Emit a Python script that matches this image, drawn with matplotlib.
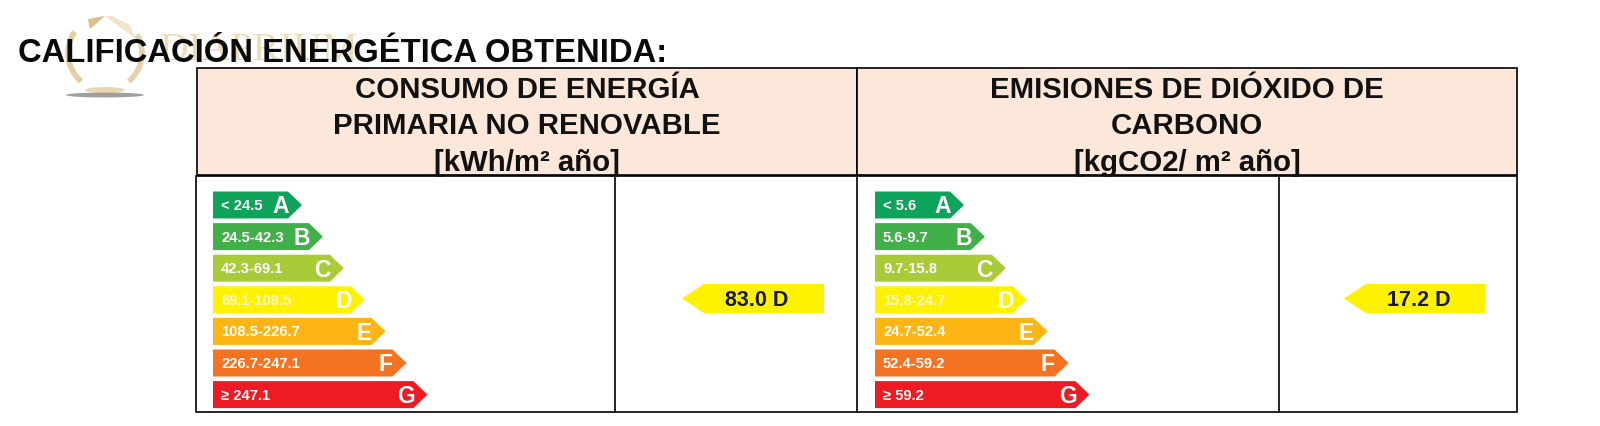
#!/usr/bin/env python
# -*- coding: utf-8 -*-

"""Calificacion energetica: two rating scales with the obtained class."""

import matplotlib
matplotlib.use('Agg')
import matplotlib.pyplot as plt
from matplotlib.patches import Arc, Ellipse, Polygon, Rectangle

plt.rcParams['font.family'] = ['Liberation Sans', 'DejaVu Sans']

TITLE = 'CALIFICACIÓN ENERGÉTICA OBTENIDA:'
HEAD_ENERGY = ['CONSUMO DE ENERGÍA', 'PRIMARIA NO RENOVABLE', '[kWh/m² año]']
HEAD_CO2 = ['EMISIONES DE DIÓXIDO DE', 'CARBONO', '[kgCO2/ m² año]']

LETTERS = ['A', 'B', 'C', 'D', 'E', 'F', 'G']
BAND_COLORS = ['#0ea35a', '#41b04a', '#a9cb38', '#fff200', '#fdb515', '#f47322', '#ed1c24']
RANGES_ENERGY = ['< 24.5', '24.5-42.3', '42.3-69.1', '69.1-108.5', '108.5-226.7', '226.7-247.1', '≥ 247.1']
RANGES_CO2 = ['< 5.6', '5.6-9.7', '9.7-15.8', '15.8-24.7', '24.7-52.4', '52.4-59.2', '≥ 59.2']

VALUE_ENERGY = '83.0 D'
VALUE_CO2 = '17.2 D'
VALUE_COLOR = '#fff200'
HEAD_COLOR = '#fce8da'
WATERMARK = 'DIAPRIUM'


def draw_scale(ax, x0, ranges):
    """Draw the seven coloured arrows starting at x0."""
    for i, (rng, letter, color) in enumerate(zip(ranges, LETTERS, BAND_COLORS)):
        top = 192.5 + i * 31.6
        bot = top + 27
        tip = x0 + 89 + i * 20.9
        ax.add_patch(Polygon([(x0, top), (tip - 14, top), (tip, (top + bot) / 2),
                              (tip - 14, bot), (x0, bot)], color=color, lw=0))
        txt_col = '#fff9c0' if letter == 'D' else 'white'
        ax.text(x0 + 8, (top + bot) / 2, rng, color=txt_col, fontsize=10.6, weight='bold',
                va='center', ha='left')
        ax.text(tip - 21, (top + bot) / 2 + 1, letter, color='white', fontsize=16.5, weight='bold',
                va='center', ha='center')


def draw_value(ax, x0, x1, label):
    """Draw the left pointing arrow with the obtained value."""
    top, bot = 285, 314
    ax.add_patch(Polygon([(x0, (top + bot) / 2), (x0 + 22, top), (x1, top), (x1, bot), (x0 + 22, bot)],
                         color=VALUE_COLOR, lw=0))
    ax.text((x0 + x1) / 2 + 4, (top + bot) / 2 + 1, label, color='#1a1a1a', fontsize=15.5,
            va='center', ha='center', weight='bold')


fig = plt.figure(figsize=(16, 4.27), dpi=100)
ax = fig.add_axes([0, 0, 1, 1])
ax.set_xlim(0, 1600)
ax.set_ylim(427, 0)
ax.axis('off')

# header boxes
for x0, x1, lines in [(197, 857, HEAD_ENERGY), (857, 1517, HEAD_CO2)]:
    ax.add_patch(Rectangle((x0, 69), x1 - x0, 107, fc=HEAD_COLOR, ec='black', lw=1.2))
    for y, line in zip([90, 126, 163], lines):
        ax.text((x0 + x1) / 2, y, line, color='#111111', fontsize=21.2, weight='bold',
                va='center', ha='center')

# table below the header
ax.add_patch(Rectangle((196, 177), 1321, 235.5, fc='white', ec='black', lw=1.2))
for x in [615, 857, 1279]:
    ax.plot([x, x], [177, 412.5], color='black', lw=1.2)

draw_scale(ax, 213, RANGES_ENERGY)
draw_scale(ax, 875, RANGES_CO2)
draw_value(ax, 682, 824, VALUE_ENERGY)
draw_value(ax, 1344, 1485, VALUE_CO2)

# watermark logo under the title (y axis is flipped, so 180-360 is the upper half)
GOLD = '#cfa858'
ax.add_patch(Polygon([(105, 17), (90, 30), (88, 20)], color=GOLD, alpha=0.75, lw=0))
ax.add_patch(Polygon([(105, 17), (136, 40), (130, 26), (112, 17)], color=GOLD, alpha=0.3, lw=0))
ax.add_patch(Arc((105, 54), 74, 74, theta1=130, theta2=215, color=GOLD, lw=4, alpha=0.55))
ax.add_patch(Arc((105, 54), 74, 74, theta1=-30, theta2=50, color=GOLD, lw=4, alpha=0.5))
ax.add_patch(Ellipse((105, 96), 78, 5, color='#777777', alpha=0.7, lw=0))
ax.add_patch(Ellipse((105, 91), 40, 6, color=GOLD, alpha=0.45, lw=0))
ax.text(160, 50, WATERMARK, color=GOLD, alpha=0.4, fontsize=29, family='Liberation Serif',
        va='center', ha='left')

ax.text(18, 53, TITLE, color='#0a0a0a', fontsize=23.6, weight='bold', va='center', ha='left')

fig.savefig('out.png', dpi=100)
